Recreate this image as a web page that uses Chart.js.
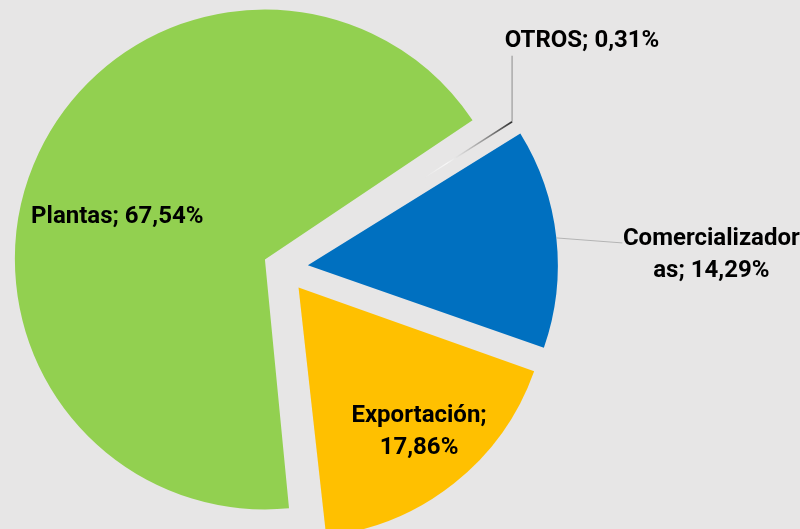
<!DOCTYPE html>
<html lang="es">
<head>
<meta charset="utf-8">
<title>Distribución</title>
<script src="https://cdn.jsdelivr.net/npm/chart.js@4.4.1/dist/chart.umd.min.js"></script>
<style>
    html, body { margin: 0; padding: 0; background: #e7e6e6; }
    #wrap { position: relative; width: 800px; height: 529px; overflow: hidden; background: #e7e6e6; }
</style>
</head>
<body>
<div id="wrap"><canvas id="pie-chart"></canvas></div>
<script>
// --- Chart data ---
const categories = ['Comercializadoras', 'Exportación', 'Plantas', 'OTROS'];
const shares = [14.29, 17.86, 67.54, 0.31];
// label text as it is wrapped in the picture
const labelLines = [
    ['Comercializador', 'as; 14,29%'],
    ['Exportación;', '17,86%'],
    ['Plantas; 67,54%'],
    ['OTROS; 0,31%']
];
const sliceColors = ['#0070c0', '#ffc000', '#92d050', '#2d2d2d'];

// how far each slice is pulled out (chart.js offset units, 4 = 1px)
const explode = [100, 100, 80, 44];

// --- label placement: inside labels sit on the slice, outside ones get a leader line ---
const labelStyle = [
    { inside: false, elbow: [66, 5], text: [155, 7], line: '#b4b4b4' },
    { inside: true, frac: 0.75, text: [4, -13] },
    { inside: true, frac: 0.6, text: [-12, 28] },
    { inside: false, elbow: [0, -66], text: [70, -75], line: '#8c8c8c' }
];

const PIE_RADIUS = 250;
const LINE_HEIGHT = 32;
const FONT = 'bold 24px Roboto, "Open Sans", sans-serif';

// chart.js grows an exploded arc's radius as well as moving it; this is that growth
function radiusGrowth(arc) {
    const fix = 1 - Math.sin(Math.min(Math.PI, arc.circumference || 0));
    return (arc.options.offset || 0) / 4 * fix;
}

// where the slice really ends up on the canvas
function drawnGeometry(arc) {
    const mid = (arc.startAngle + arc.endAngle) / 2;
    const move = (arc.options.offset || 0) / 4;
    return {
        mid,
        cx: arc.x + Math.cos(mid) * move,
        cy: arc.y + Math.sin(mid) * move,
        r: arc.outerRadius + radiusGrowth(arc)
    };
}

// the thin OTROS sliver only shows near its outer end in the original
function sliceColor(c) {
    const base = sliceColors[c.dataIndex];
    if (c.dataIndex !== 3 || !c.chart.chartArea) return base;
    const area = c.chart.chartArea;
    const x = (area.left + area.right) / 2;
    const y = (area.top + area.bottom) / 2;
    const grad = c.chart.ctx.createRadialGradient(x, y, 0, x, y, PIE_RADIUS + 12);
    grad.addColorStop(0, 'rgba(255, 255, 255, 0)');
    grad.addColorStop(0.6, 'rgba(255, 255, 255, 0)');
    grad.addColorStop(0.7, 'rgba(255, 255, 255, 0.7)');
    grad.addColorStop(1, base);
    return grad;
}

// keep the real slices at one radius, like the original exploded pie
// (slivers are left as chart.js draws them so they stay visible)
const plainExplode = {
    id: 'plainExplode',
    afterDatasetUpdate(chart, args) {
        args.meta.data.forEach(arc => {
            if (arc.circumference > 0.05) {
                arc.outerRadius = Math.max(arc.outerRadius - radiusGrowth(arc), 0);
            }
        });
    }
};

const pieLabels = {
    id: 'pieLabels',
    afterDatasetsDraw(chart) {
        const ctx = chart.ctx;
        const arcs = chart.getDatasetMeta(0).data;
        ctx.save();
        ctx.font = FONT;
        ctx.fillStyle = '#000000';
        ctx.textAlign = 'center';
        ctx.textBaseline = 'alphabetic';

        arcs.forEach((arc, i) => {
            const st = labelStyle[i];
            const g = drawnGeometry(arc);
            let ax, ay;

            if (st.inside) {
                ax = g.cx + Math.cos(g.mid) * g.r * st.frac;
                ay = g.cy + Math.sin(g.mid) * g.r * st.frac;
            } else {
                // leader line starts on the outer edge of the slice
                ax = g.cx + Math.cos(g.mid) * g.r;
                ay = g.cy + Math.sin(g.mid) * g.r;
                ctx.beginPath();
                ctx.moveTo(ax, ay);
                ctx.lineTo(ax + st.elbow[0], ay + st.elbow[1]);
                ctx.lineWidth = 1;
                ctx.strokeStyle = st.line;
                ctx.stroke();
            }

            const tx = ax + st.text[0];
            const ty = ay + st.text[1];
            labelLines[i].forEach((line, k) => {
                ctx.fillText(line, tx, ty + k * LINE_HEIGHT);
            });
        });
        ctx.restore();
    }
};

function renderPie() {
    const ctx = document.getElementById('pie-chart').getContext('2d');
    new Chart(ctx, {
        type: 'pie',
        data: {
            labels: categories,
            datasets: [{
                data: shares,
                backgroundColor: sliceColor,
                borderWidth: 0,
                offset: explode
            }]
        },
        options: {
            responsive: true,
            maintainAspectRatio: false,
            animation: false,
            rotation: 58,
            radius: PIE_RADIUS,
            layout: { padding: { left: 0, right: 234, top: 7, bottom: 0 } },
            plugins: {
                legend: { display: false },
                tooltip: { enabled: false }
            }
        },
        plugins: [plainExplode, pieLabels]
    });
}

renderPie();
</script>
</body>
</html>
